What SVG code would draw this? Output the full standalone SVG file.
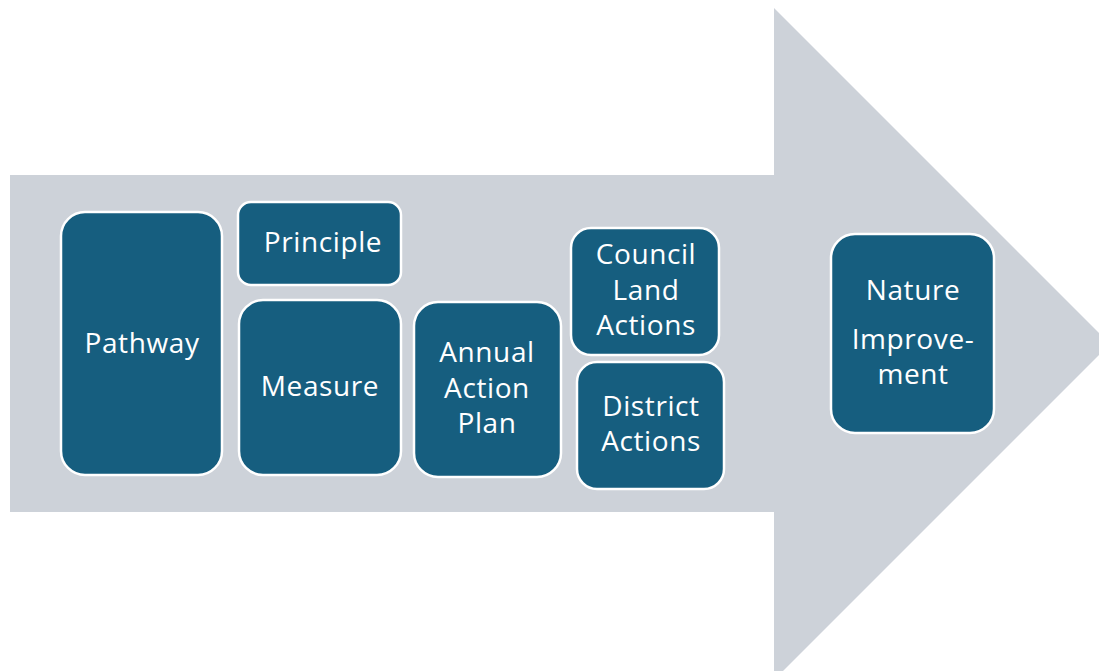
<svg xmlns="http://www.w3.org/2000/svg" width="1099" height="671" viewBox="0 0 1099 671">
<style>
.box{fill:#165E7F;stroke:#FFFFFF;stroke-width:2.5}
.t{font-family:"Open Sans","Liberation Sans",sans-serif;font-size:28px;letter-spacing:0.6px;fill:#FFFFFF;text-anchor:middle}
</style>
<rect width="1099" height="671" fill="#FFFFFF"/>
<g id="arrow">
<polygon points="10,175 774,175 774,8 1110,344 774,680 774,512 10,512" fill="#CDD2D9"/>
</g>
<g id="connectors"></g>
<g id="pathway">
<rect class="box" x="61" y="212" width="161" height="263" rx="24"/>
<text class="t" x="142" y="353">Pathway</text>
</g>
<g id="principle">
<rect class="box" x="238" y="202" width="163" height="83" rx="13"/>
<text class="t" x="323" y="252">Principle</text>
</g>
<g id="measure">
<rect class="box" x="239" y="300" width="162" height="175" rx="24"/>
<text class="t" x="320" y="396">Measure</text>
</g>
<g id="annual">
<rect class="box" x="414" y="302" width="147" height="175" rx="24"/>
<text class="t" x="487" y="362">Annual</text>
<text class="t" x="487" y="398">Action</text>
<text class="t" x="487" y="433">Plan</text>
</g>
<g id="council">
<rect class="box" x="571" y="228" width="148" height="127" rx="20"/>
<text class="t" x="646" y="264">Council</text>
<text class="t" x="646" y="300">Land</text>
<text class="t" x="646" y="335">Actions</text>
</g>
<g id="district">
<rect class="box" x="577" y="362" width="147" height="127" rx="20"/>
<text class="t" x="651" y="416">District</text>
<text class="t" x="651" y="451">Actions</text>
</g>
<g id="nature">
<rect class="box" x="831" y="234" width="163" height="199" rx="24"/>
<text class="t" x="913" y="300">Nature</text>
<text class="t" x="913" y="349">Improve-</text>
<text class="t" x="913" y="384">ment</text>
</g>
</svg>
